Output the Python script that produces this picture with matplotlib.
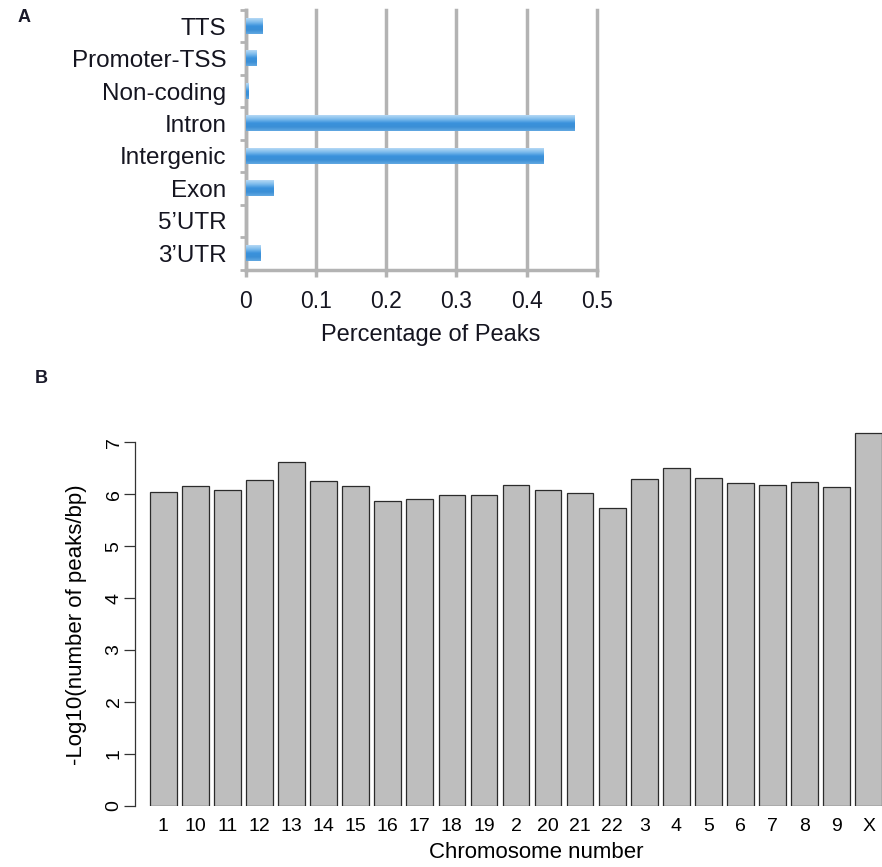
import numpy as np
import matplotlib
matplotlib.use("Agg")
import matplotlib.pyplot as plt
from matplotlib.colors import LinearSegmentedColormap

plt.rcParams['font.family'] = ['Liberation Sans', 'DejaVu Sans']

# ---- Panel A: genomic annotation of peaks ----
features = ["TTS", "Promoter-TSS", "Non-coding", "Intron",
            "Intergenic", "Exon", "5\u2019UTR", "3\u2019UTR"]
peak_fraction = [0.024, 0.015, 0.004, 0.468, 0.424, 0.039, 0.0, 0.021]
a_ticks = [0, 0.1, 0.2, 0.3, 0.4, 0.5]
a_ticklabels = ["0", "0.1", "0.2", "0.3", "0.4", "0.5"]

# ---- Panel B: peak density per chromosome ----
chromosomes = ["1", "10", "11", "12", "13", "14", "15", "16", "17", "18",
               "19", "2", "20", "21", "22", "3", "4", "5", "6", "7", "8",
               "9", "X"]
neg_log10_density = [6.05, 6.15, 6.09, 6.27, 6.62, 6.25, 6.15, 5.88, 5.90,
                     5.98, 5.99, 6.17, 6.08, 6.02, 5.74, 6.29, 6.51, 6.32,
                     6.22, 6.18, 6.24, 6.14, 7.19]
b_ticks = [0, 1, 2, 3, 4, 5, 6, 7]

W, H = 882, 867
fig = plt.figure(figsize=(W / 100, H / 100), dpi=100)


def px_axes(left, top, right, bottom):
    return fig.add_axes([left / W, 1 - bottom / H, (right - left) / W, (bottom - top) / H])


grid_grey = "#b3b3b3"
text_dark = "#151520"

# ================= Panel A =================
axA = px_axes(245.7, 10, 596.7, 269.5)
ypos = np.arange(len(features))
bars = axA.barh(ypos, peak_fraction, height=0.47, color="none", edgecolor="none")
blue = LinearSegmentedColormap.from_list(
    "bar_blue", ["#b5d9f5", "#7dbbec", "#3a92dc", "#3b8fd6", "#62a8e2"])
grad = np.linspace(0, 1, 64).reshape(-1, 1)
for p in bars.patches:
    x0, y0, w, h = p.get_x(), p.get_y(), p.get_width(), p.get_height()
    if w <= 0:
        continue
    axA.imshow(grad, cmap=blue, aspect="auto", origin="upper",
               extent=(x0, x0 + w, y0 + h, y0), zorder=3, interpolation="bilinear")
axA.set_xlim(0, 0.5)
axA.set_ylim(len(features) - 0.5, -0.5)
axA.set_xticks(a_ticks)
axA.set_xticklabels(a_ticklabels, fontsize=16.5, color=text_dark)
axA.set_yticks(ypos)
axA.set_yticklabels(features, fontsize=17.5, color=text_dark)
axA.set_yticks(np.arange(len(features) + 1) - 0.5, minor=True)
axA.tick_params(axis="y", which="major", length=0, pad=14)
axA.tick_params(axis="y", which="minor", length=4, width=2, color=grid_grey)
axA.tick_params(axis="x", which="major", length=5, width=2.5, color=grid_grey, pad=10)
for gl in axA.xaxis.get_gridlines():
    gl.set_clip_on(False)
axA.grid(axis="x", color=grid_grey, linewidth=2.5, zorder=0)
for gl in axA.xaxis.get_gridlines():
    gl.set_clip_on(False)
axA.set_axisbelow(True)
for side in ("top", "right"):
    axA.spines[side].set_visible(False)
for side in ("left", "bottom"):
    axA.spines[side].set_color(grid_grey)
    axA.spines[side].set_linewidth(2.5)
fig.text(431 / W, 1 - 335 / H, "Percentage of Peaks", fontsize=17,
         ha="center", va="center", color=text_dark)
fig.text(24 / W, 1 - 17 / H, "A", fontsize=13, fontweight="bold",
         ha="center", va="center", color="#1a1a2a")

# ================= Panel B =================
axB = px_axes(135, 429.4, 882, 805.7)
centers = 0.7 + 1.2 * np.arange(len(chromosomes))
axB.bar(centers, neg_log10_density, width=1.0, color="#bebebe",
        edgecolor="#2b2b2b", linewidth=0.9)
axB.set_xlim(-0.36, 27.6)
axB.set_ylim(0, 7.25)
axB.set_yticks(b_ticks)
axB.set_yticklabels([str(t) for t in b_ticks], rotation=90, va="center", fontsize=14)
axB.set_xticks(centers)
axB.set_xticklabels(chromosomes, fontsize=14)
axB.tick_params(axis="x", length=0, pad=9)
axB.tick_params(axis="y", length=8, width=0.9, color="#333333", pad=1)
for side in ("top", "right", "bottom"):
    axB.spines[side].set_visible(False)
axB.spines["left"].set_bounds(0, 7)
axB.spines["left"].set_color("#333333")
axB.spines["left"].set_linewidth(0.9)
fig.text(536 / W, 1 - 853 / H, "Chromosome number", fontsize=16,
         ha="center", va="center")
fig.text(77 / W, 1 - 625 / H, "-Log10(number of peaks/bp)", fontsize=16,
         ha="center", va="center", rotation=90)
fig.text(41 / W, 1 - 379 / H, "B", fontsize=13, fontweight="bold",
         ha="center", va="center", color="#1a1a2a")

fig.savefig("out.png", dpi=100)
